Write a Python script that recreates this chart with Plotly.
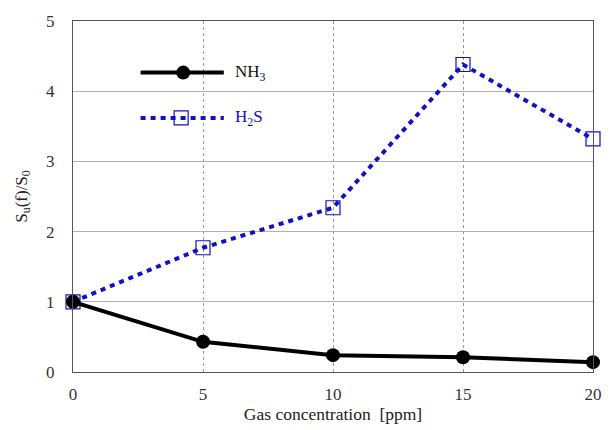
import plotly.graph_objects as go

conc = [0, 5, 10, 15, 20]
nh3 = [1.0, 0.43, 0.24, 0.21, 0.14]
h2s = [1.0, 1.77, 2.34, 4.38, 3.32]
x_ticks = [0, 5, 10, 15, 20]
y_ticks = [0, 1, 2, 3, 4, 5]

FONT = "Liberation Serif, Times New Roman, DejaVu Serif, serif"
BLUE = "#1010c8"

fig = go.Figure()
fig.add_trace(go.Scatter(x=conc, y=h2s, mode="lines+markers", name="H<sub>2</sub>S",
                         line=dict(color=BLUE, width=4, dash="5px,5px"),
                         marker=dict(symbol="square-open", size=14, color=BLUE, line=dict(width=1.2)),
                         cliponaxis=False, showlegend=False))
fig.add_trace(go.Scatter(x=conc, y=nh3, mode="lines+markers", name="NH<sub>3</sub>",
                         line=dict(color="black", width=4),
                         marker=dict(symbol="circle", size=14, color="black"),
                         cliponaxis=False, showlegend=False))

# manual legend on an overlay axis
fig.add_trace(go.Scatter(x=[0.13, 0.29], y=[0.853, 0.853], mode="lines", xaxis="x2", yaxis="y2",
                         line=dict(color="black", width=4), showlegend=False, hoverinfo="skip"))
fig.add_trace(go.Scatter(x=[0.212], y=[0.853], mode="markers", xaxis="x2", yaxis="y2",
                         marker=dict(symbol="circle", size=14, color="black"), showlegend=False, hoverinfo="skip"))
fig.add_trace(go.Scatter(x=[0.13, 0.29], y=[0.724, 0.724], mode="lines", xaxis="x2", yaxis="y2",
                         line=dict(color=BLUE, width=4, dash="5px,5px"), showlegend=False, hoverinfo="skip"))
fig.add_trace(go.Scatter(x=[0.208], y=[0.724], mode="markers", xaxis="x2", yaxis="y2",
                         marker=dict(symbol="square-open", size=14, color=BLUE, line=dict(width=1.2)),
                         showlegend=False, hoverinfo="skip"))

fig.update_layout(
    width=611, height=430,
    margin=dict(l=73, r=9, t=21, b=54),
    paper_bgcolor="white", plot_bgcolor="white",
    font=dict(family=FONT, size=17, color="#333333"),
    xaxis=dict(range=[0, 20], tickvals=x_ticks, showgrid=True, gridcolor="#9a9a9a", griddash="dot",
               gridwidth=1, showline=True, linecolor="#555555", linewidth=1, mirror=True,
               ticks="", zeroline=False, ticklabelstandoff=7,
               title=dict(text="Gas concentration  [ppm]", standoff=4, font=dict(size=17.5, color="#222222"))),
    yaxis=dict(range=[0, 5], tickvals=y_ticks, showgrid=True, gridcolor="#b0b0b0", gridwidth=1,
               showline=True, linecolor="#555555", linewidth=1, mirror=True, ticks="",
               zeroline=False, ticklabelstandoff=14,
               title=dict(text="S<sub>u</sub>(f)/S<sub>0</sub>", standoff=14, font=dict(size=17, color="#222222"))),
    xaxis2=dict(domain=[0, 1], range=[0, 1], overlaying="x", visible=False),
    yaxis2=dict(domain=[0, 1], range=[0, 1], overlaying="y", visible=False),
    shapes=[dict(type="rect", xref="paper", yref="paper", x0=0.10, x1=0.41, y0=0.66, y1=0.92,
                 fillcolor="white", line=dict(width=0), layer="below")],
    annotations=[
        dict(text="NH<sub>3</sub>", xref="paper", yref="paper", x=0.307, y=0.853, xanchor="left",
             yanchor="middle", showarrow=False, font=dict(family=FONT, size=17, color="#111111")),
        dict(text="H<sub>2</sub>S", xref="paper", yref="paper", x=0.307, y=0.724, xanchor="left",
             yanchor="middle", showarrow=False, font=dict(family=FONT, size=17, color=BLUE)),
    ],
)

fig.write_html("out.html", config={"displayModeBar": False},
               post_script="document.body.style.margin='0';document.body.style.overflow='hidden';")
